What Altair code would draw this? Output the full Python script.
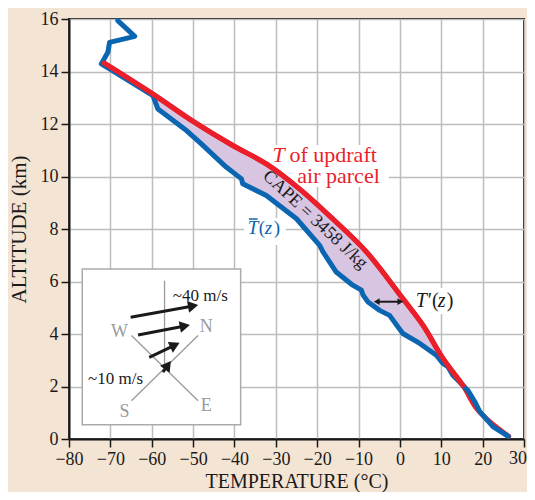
import math
import altair as alt
import pandas as pd

# ---------------- data ----------------
# environmental sounding  T̄(z)
env_T = [26.2, 22.5, 19.3, 18.1, 16.4, 15.2, 14.0, 12.8, 11.6, 10.4, 8.8, 4.8, 0.7,
         -2.5, -4.9, -7.7, -8.9, -9.3, -11.4, -15.4, -18.6, -19.4, -25.0, -32.3,
         -38.0, -38.3, -42.0, -48.4, -51.6, -58.5, -59.7, -70.2, -72.2, -70.6,
         -70.2, -64.1, -68.2]
env_z = [0.10, 0.47, 1.04, 1.42, 1.86, 2.05, 2.24, 2.43, 2.75, 2.88, 3.19, 3.64, 4.02,
         4.71, 4.90, 5.22, 5.48, 5.67, 5.86, 6.36, 7.13, 7.38, 8.39, 9.28,
         9.72, 9.91, 10.36, 11.30, 11.75, 12.57, 13.08, 14.10, 14.29, 14.73,
         15.11, 15.34, 15.94]
# updraft parcel temperature
par_T = [26.3, 21.7, 18.5, 15.2, 10.4, 5.6, 0.7, -8.1, -16.2, -24.3, -32.3, -40.4,
         -50.0, -59.7, -71.5]
par_z = [0.10, 0.66, 1.17, 2.05, 3.07, 4.33, 5.35, 7.13, 8.38, 9.53, 10.48, 11.18,
         12.10, 13.14, 14.32]
# CAPE region (between the two curves)
cape_zmin, cape_zmax = 2.05, 13.14

x_ticks = [-80, -70, -60, -50, -40, -30, -20, -10, 0, 10, 20, 30]
y_ticks = [0, 2, 4, 6, 8, 10, 12, 14, 16]

# hodograph inset (in chart data units)
box_T = [-76.8]; box_T2 = [-38.5]; box_z = [0.54]; box_z2 = [6.48]
comp_T = [-64.9, -64.9, -56.9]
comp_T2 = [-48.8, -48.8, -56.9]
comp_z = [3.94, 1.46, 6.03]
comp_z2 = [1.46, 3.94, 2.70]
comp_lab = ["W", "N", "S", "E"]
comp_lab_T = [-67.8, -46.8, -66.6, -46.8]
comp_lab_z = [4.09, 4.26, 1.02, 1.27]
arr_T = [-65.1, -63.3, -60.6, -57.3]
arr_z = [4.64, 3.96, 3.11, 2.55]
arr_T2 = [-48.8, -50.8, -53.3, -55.4]     # arrow tips
arr_z2 = [5.10, 4.34, 3.66, 2.97]
speed_lab = ["~40 m/s", "~10 m/s"]
speed_T = [-54.9, -75.4]
speed_z = [5.45, 2.29]

# T'(z) double arrow
tp_T = [-5.6]; tp_T2 = [0.1]; tp_z = [5.23]

# white label backgrounds
bg_T = [-31.3, -37.7, 2.8]
bg_T2 = [-2.7, -27.6, 14.4]
bg_z = [9.6, 7.39, 4.76]
bg_z2 = [11.2, 8.42, 5.75]

# ---------------- style ----------------
BG = "#f4e4d3"
BLUE = "#0b66b1"
RED = "#ea1f2a"
FILL = "#d7c5e2"
FONT = "Liberation Serif"
INK = "#1a1a1a"
GREY = "#9a9a9a"
W, H = 455, 420
PX_T = W / 110.0
PX_Z = H / 16.0
HEAD_BACK = 5.0  # px from tip to arrow-head centre
LAST_X = x_ticks[-1]

xs = alt.Scale(domain=[-80, 30], nice=False, zero=False)
ys = alt.Scale(domain=[0, 16], nice=False, zero=False)
xaxis = alt.Axis(values=x_ticks, title="TEMPERATURE (°C)", titlePadding=3,
                 titleFontSize=20,
                 labelExpr=f"datum.value == {LAST_X} ? '' : datum.label")
yaxis = alt.Axis(values=y_ticks, title="ALTITUDE (km)", titlePadding=11,
                 titleFontSize=21)


def X(f="T"):
    return alt.X(f"{f}:Q", scale=xs, axis=xaxis)


def Y(f="z"):
    return alt.Y(f"{f}:Q", scale=ys, axis=yaxis)


def segs(T, T2, z, z2):
    return pd.DataFrame({"T": T, "T2": T2, "z": z, "z2": z2})


def text(T, z, s, size, color=INK, italic=False, align="left",
         baseline="alphabetic", angle=None, dx=0, dy=0):
    df = pd.DataFrame({"T": [T], "z": [z], "s": [s]})
    kw = dict(font=FONT, fontSize=size, color=color, align=align,
              baseline=baseline, dx=dx, dy=dy)
    if italic:
        kw["fontStyle"] = "italic"
    if angle is not None:
        kw["angle"] = angle
    return alt.Chart(df).mark_text(**kw).encode(x=X(), y=Y(), text="s:N")


layers = []

# white label backgrounds
layers.append(alt.Chart(segs(bg_T, bg_T2, bg_z, bg_z2)).mark_rect(
    color="white").encode(x=X(), x2="T2:Q", y=Y(), y2="z2:Q"))

# inset box
layers.append(alt.Chart(segs(box_T, box_T2, box_z, box_z2)).mark_rect(
    fill="white", stroke="#ababab", strokeWidth=1.5).encode(
    x=X(), x2="T2:Q", y=Y(), y2="z2:Q"))
layers.append(alt.Chart(segs(comp_T, comp_T2, comp_z, comp_z2)).mark_rule(
    color=GREY, strokeWidth=1.3).encode(x=X(), x2="T2:Q", y=Y(), y2="z2:Q"))
comp_df = pd.DataFrame({"T": comp_lab_T, "z": comp_lab_z, "s": comp_lab})
layers.append(alt.Chart(comp_df).mark_text(
    font=FONT, fontSize=18, color=GREY, baseline="middle").encode(
    x=X(), y=Y(), text="s:N"))

# wind arrows
rows = []
for t1, z1, t2, z2 in zip(arr_T, arr_z, arr_T2, arr_z2):
    dxp = (t2 - t1) * PX_T
    dyp = (z2 - z1) * PX_Z
    L = math.hypot(dxp, dyp)
    hc_T = t2 - HEAD_BACK * dxp / L / PX_T
    hc_z = z2 - HEAD_BACK * dyp / L / PX_Z
    ang = (math.degrees(math.atan2(-dyp, dxp)) + 360) % 360
    rows.append({"T": t1, "z": z1, "T2": hc_T, "z2": hc_z, "ang": ang})
arr_df = pd.DataFrame(rows)
layers.append(alt.Chart(arr_df).mark_rule(color=INK, strokeWidth=3).encode(
    x=X(), x2="T2:Q", y=Y(), y2="z2:Q"))
layers.append(alt.Chart(arr_df).mark_point(
    shape="triangle-right", filled=True, color=INK, size=140, opacity=1).encode(
    x=X("T2"), y=Y("z2"), angle=alt.Angle("ang:Q", scale=None)))
sp_df = pd.DataFrame({"T": speed_T, "z": speed_z, "s": speed_lab})
layers.append(alt.Chart(sp_df).mark_text(
    font=FONT, fontSize=17, color=INK, align="left").encode(
    x=X(), y=Y(), text="s:N"))

# CAPE fill polygon
env = pd.DataFrame({"T": env_T, "z": env_z})
par = pd.DataFrame({"T": par_T, "z": par_z})
up = env[(env.z >= cape_zmin) & (env.z <= cape_zmax)]
down = par[(par.z >= cape_zmin) & (par.z <= cape_zmax)].iloc[::-1]
poly = pd.concat([up, down], ignore_index=True)
poly["i"] = range(len(poly))
layers.append(alt.Chart(poly).mark_line(
    fill=FILL, color=FILL, strokeWidth=0.5).encode(
    x=X(), y=Y(), order="i:Q"))

env["i"] = range(len(env))
par["i"] = range(len(par))
line_kw = dict(strokeWidth=5, strokeJoin="round", strokeCap="round")
layers.append(alt.Chart(par).mark_line(
    color=RED, interpolate="catmull-rom", **line_kw).encode(
    x=X(), y=Y(), order="i:Q"))
layers.append(alt.Chart(env).mark_line(color=BLUE, **line_kw).encode(
    x=X(), y=Y(), order="i:Q"))
layers.append(alt.Chart(par[par.z >= 2.0]).mark_line(
    color=RED, interpolate="catmull-rom", **line_kw).encode(
    x=X(), y=Y(), order="i:Q"))

# T'(z) arrow
tp_df = segs(tp_T, tp_T2, tp_z, tp_z)
layers.append(alt.Chart(tp_df).mark_rule(color=INK, strokeWidth=2).encode(
    x=X(), x2="T2:Q", y=Y()))
layers.append(alt.Chart(tp_df).mark_point(
    shape="triangle-left", filled=True, color=INK, size=45, opacity=1).encode(
    x=X(), y=Y()))
layers.append(alt.Chart(tp_df).mark_point(
    shape="triangle-right", filled=True, color=INK, size=45, opacity=1).encode(
    x=X("T2"), y=Y()))

# labels
layers.append(text(-30.8, 10.55, "T", 22, RED, italic=True))
layers.append(text(-26.7, 10.55, "of updraft", 22, RED))
layers.append(text(-24.8, 9.75, "air parcel", 22, RED))
layers.append(text(-20.5, 8.35, "CAPE = 3458 J/kg", 18, INK, align="center",
                   baseline="middle", angle=43))
layers.append(text(-36.8, 7.81, "T", 19, BLUE, italic=True))
layers.append(text(-36.8, 7.81, "(", 19, BLUE, dx=11))
layers.append(text(-36.8, 7.81, "z", 19, BLUE, italic=True, dx=17))
layers.append(text(-36.8, 7.81, ")", 19, BLUE, dx=26))
layers.append(alt.Chart(segs([-36.5], [-34.4], [8.38], [8.38])).mark_rule(
    color=BLUE, strokeWidth=1.5).encode(x=X(), x2="T2:Q", y=Y()))
layers.append(text(3.8, 5.03, "T", 20, INK, italic=True))
layers.append(text(3.8, 5.03, "′(", 20, INK, dx=12))
layers.append(text(3.8, 5.03, "z", 20, INK, italic=True, dx=22))
layers.append(text(3.8, 5.03, ")", 20, INK, dx=31))
# last x tick label, nudged inside the page edge
layers.append(text(LAST_X, 0, str(LAST_X), 18, INK, align="center",
                   baseline="top", dx=-6, dy=11))

chart = alt.layer(*layers).properties(
    width=W, height=H,
    padding={"left": 61, "top": 11, "right": 3, "bottom": 53},
    autosize=alt.AutoSizeParams(type="none"),
    background=BG,
).configure_view(
    fill="white", stroke=INK, strokeWidth=2
).configure_axis(
    labelFont=FONT, labelFontSize=18, labelColor=INK, labelPadding=3,
    labelOverlap=False, labelFlush=False,
    titleFont=FONT, titleFontWeight="normal", titleColor=INK,
    gridColor="#bdbdbd", gridWidth=1.5,
    tickColor=INK, tickWidth=1.5, tickSize=8,
    domainColor=INK, domainWidth=2,
)

chart.save("out.html", embed_options={"renderer": "svg", "actions": False})
